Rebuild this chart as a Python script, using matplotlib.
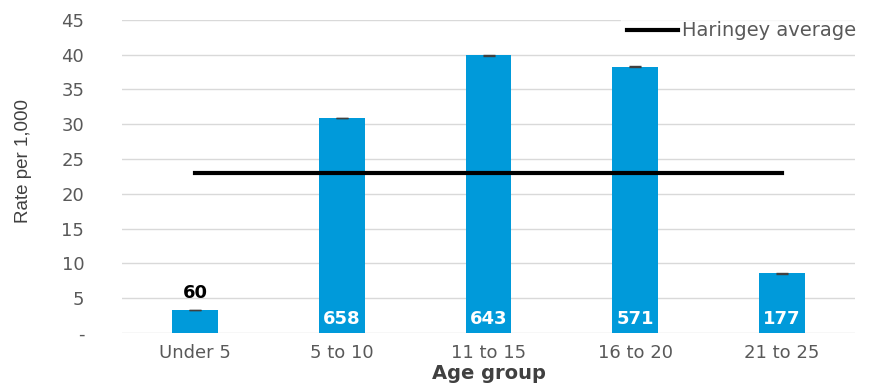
import numpy as np
import matplotlib.pyplot as plt

plt.rcParams['font.family'] = ['DejaVu Sans']

# rates per 1,000 by age group, with counts shown on the bars
age_groups = ['Under 5', '5 to 10', '11 to 15', '16 to 20', '21 to 25']
rates = [3.3, 30.9, 39.9, 38.3, 8.6]
counts = [60, 658, 643, 571, 177]
haringey_avg = 23.0

bar_color = '#009ADA'
text_grey = '#595959'

fig = plt.figure(figsize=(8.7, 3.83), dpi=100)
ax = fig.add_axes([0.140, 0.1305, 0.843, 0.8175])

x = np.arange(len(age_groups))
ax.bar(x, rates, width=0.31, color=bar_color, zorder=2)
ax.errorbar(x, rates, yerr=0.05, fmt='none', ecolor='#404040',
            elinewidth=1, capsize=4, capthick=1, zorder=3)

# borough average drawn across the categories
ax.plot(x, [haringey_avg] * len(x), color='black', lw=3,
        label='Haringey average', zorder=4)

for xi, r, c in zip(x, rates, counts):
    if r > 5:
        ax.text(xi, 0.7, str(c), ha='center', va='bottom', color='white',
                fontsize=13, fontweight='bold', zorder=5)
    else:
        ax.text(xi, r + 1.1, str(c), ha='center', va='bottom', color='black',
                fontsize=13, fontweight='bold', zorder=5)

ax.set_xlim(-0.5, len(x) - 0.5)
ax.set_ylim(0, 45)
yt = np.arange(0, 46, 5)
ax.set_yticks(yt)
ax.set_yticklabels(['-'] + [str(v) for v in yt[1:]])
ax.set_xticks(x)
ax.set_xticklabels(age_groups)
ax.tick_params(axis='both', length=0, labelsize=13, labelcolor=text_grey)
ax.tick_params(axis='y', pad=27)
ax.tick_params(axis='x', pad=8)
ax.grid(axis='y', color='#d9d9d9', lw=1, zorder=0)
for s in ax.spines.values():
    s.set_visible(False)

ax.set_ylabel('Rate per 1,000', fontsize=13.5, color='#404040',
              family='Liberation Sans', fontweight='medium')
ax.yaxis.set_label_coords(-0.122, 0.55)
ax.set_xlabel('Age group', fontsize=14, fontweight='bold', color='#404040',
              labelpad=1)

leg = ax.legend(loc='upper right', bbox_to_anchor=(1.022, 1.045), frameon=True,
                fontsize=14, handlelength=2.6, handletextpad=0.2,
                borderpad=0.3)
leg.get_frame().set_facecolor('white')
leg.get_frame().set_edgecolor('white')
for t in leg.get_texts():
    t.set_color(text_grey)

fig.savefig('out.png', dpi=100)
